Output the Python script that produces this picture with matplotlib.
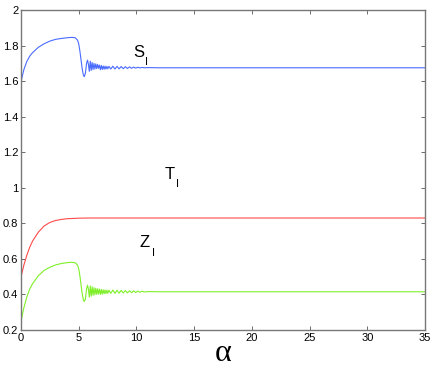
"""
Steady state of S_I, T_I, Z_I versus alpha.
"""

import matplotlib
matplotlib.use('Agg')
import matplotlib.pyplot as plt

plt.rcParams['font.family'] = ['Liberation Sans', 'DejaVu Sans']

# values
s_x = [0, 0.1, 0.25, 0.5, 0.75, 1.0, 1.5, 2.0, 2.5, 3.0, 3.5, 4.0, 4.4, 4.7,
       4.9, 5.0, 5.1, 5.2, 5.3, 5.4, 5.48, 5.58, 5.68, 5.76, 5.84,
       5.92, 6.0, 6.08, 6.16, 6.24, 6.32, 6.40, 6.48, 6.56, 6.64, 6.72, 6.80,
       6.88, 6.96, 7.04, 7.12, 7.20, 7.28, 7.36, 7.44, 7.52, 7.62, 7.78, 7.96,
       8.14, 8.32, 8.50, 8.68, 8.86, 9.04, 9.22, 9.40, 9.58, 9.76, 9.94, 10.12,
       10.30, 10.48, 10.7, 11.0, 12.0, 35.0]
s_y = [1.595, 1.625, 1.665, 1.71, 1.74, 1.76, 1.79, 1.81, 1.825, 1.835, 1.840,
       1.844, 1.846, 1.844, 1.83, 1.81, 1.77, 1.72, 1.67, 1.635, 1.625, 1.645,
       1.70, 1.718, 1.695,
       1.655, 1.712, 1.66, 1.705, 1.665, 1.700, 1.668, 1.697, 1.67, 1.694,
       1.672, 1.690, 1.664, 1.688, 1.666, 1.685, 1.667, 1.684, 1.668, 1.683,
       1.669, 1.683, 1.668, 1.684, 1.668, 1.683, 1.669, 1.682, 1.670, 1.681,
       1.671, 1.680, 1.672, 1.679, 1.673, 1.678, 1.674, 1.677, 1.675, 1.676,
       1.675, 1.675]

t_x = [0, 0.1, 0.25, 0.5, 0.75, 1.0, 1.5, 2.0, 2.5, 3.0, 3.5, 4.0, 5.0, 6.0,
       8.0, 35.0]
t_y = [0.50, 0.525, 0.565, 0.62, 0.665, 0.70, 0.75, 0.785, 0.805, 0.816,
       0.822, 0.826, 0.829, 0.830, 0.830, 0.830]

z_x = s_x
z_y = [0.25, 0.28, 0.325, 0.385, 0.43, 0.46, 0.505, 0.535, 0.553, 0.566,
       0.574, 0.579, 0.581, 0.578, 0.565, 0.545, 0.505, 0.455, 0.405, 0.37,
       0.36, 0.375, 0.43, 0.452, 0.43,
       0.385, 0.448, 0.39, 0.443, 0.395, 0.438, 0.398, 0.435, 0.40, 0.432,
       0.402, 0.430, 0.400, 0.428, 0.402, 0.426, 0.404, 0.425, 0.405, 0.424,
       0.406, 0.424, 0.406, 0.425, 0.406, 0.424, 0.407, 0.423, 0.408, 0.422,
       0.409, 0.421, 0.410, 0.420, 0.411, 0.419, 0.412, 0.418, 0.414, 0.416,
       0.415, 0.415]

# curve labels: (name, x, y)
labels = [('S', 9.7, 1.738), ('T', 12.4, 1.05), ('Z', 10.3, 0.665)]

fig = plt.figure(figsize=(4.36, 3.74), dpi=100)
ax = fig.add_axes([21 / 436, 44 / 374, 404 / 436, 320 / 374])

ax.plot(s_x, s_y, color='#4a6bff', linewidth=0.8)
ax.plot(t_x, t_y, color='#ff4a4a', linewidth=0.8)
ax.plot(z_x, z_y, color='#7fef2a', linewidth=0.8)

ax.set_xlim(0, 35)
ax.set_ylim(0.2, 2.0)
ax.set_xticks([0, 5, 10, 15, 20, 25, 30, 35])
ax.set_yticks([0.2, 0.4, 0.6, 0.8, 1.0, 1.2, 1.4, 1.6, 1.8, 2.0])
ax.set_yticklabels(['0.2', '0.4', '0.6', '0.8', '1', '1.2', '1.4', '1.6',
                    '1.8', '2'])
ax.tick_params(direction='in', top=True, right=True, labelsize=8,
               length=3, width=0.6, color='#555555', pad=2)
for sp in ax.spines.values():
    sp.set_color('#777777')
    sp.set_linewidth(1.0)

for name, x, y in labels:
    ax.text(x, y, name, fontsize=12)
    ax.annotate('I', (x, y), xytext=(8.8, -6), textcoords='offset points',
                fontsize=8)

ax.set_xlabel('α', fontsize=23, family='Liberation Serif', labelpad=-3)

fig.savefig('out.png', dpi=100)
plt.close(fig)
